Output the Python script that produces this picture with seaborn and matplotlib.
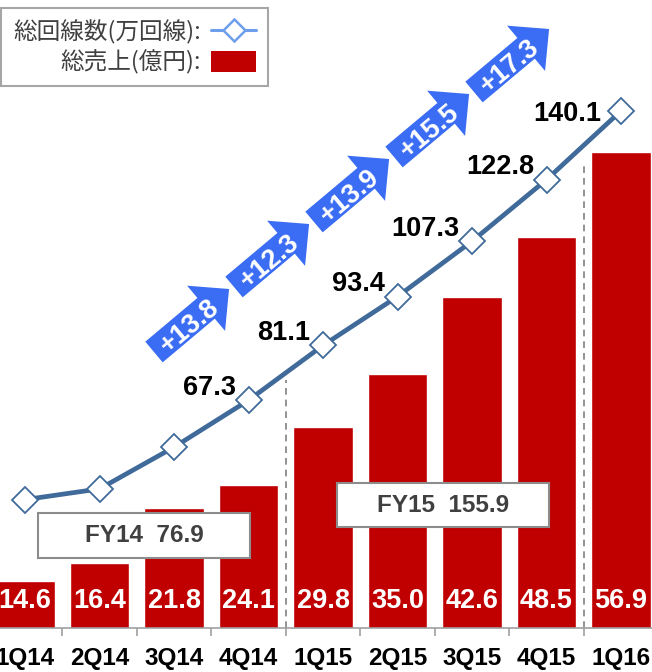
import numpy as np
import pandas as pd
import matplotlib
matplotlib.use("Agg")
import matplotlib.pyplot as plt
from matplotlib.lines import Line2D
from matplotlib.patches import Patch, Rectangle, FancyArrow
import seaborn as sns

# data
quarters = ["1Q14", "2Q14", "3Q14", "4Q14", "1Q15", "2Q15", "3Q15", "4Q15", "1Q16"]
sales = [14.6, 16.4, 21.8, 24.1, 29.8, 35.0, 42.6, 48.5, 56.9]        # 総売上(億円)
lines = [42.3, 45.0, 55.5, 67.3, 81.1, 93.4, 107.3, 122.8, 140.1]     # 総回線数(万回線)
fy_labels = ["FY14  76.9", "FY15  155.9"]
legend_labels = ["総回線数(万回線):", "総売上(億円):"]
first_labelled = 3  # line values shown from 4Q14 on

RED = "#C00000"
NAVY = "#3F6A99"
BLUE = "#3A6CF4"
LIGHT = "#6D9EEB"
GREY = "#404040"

sns.set_theme(style="white")
plt.rcParams["font.family"] = ["Liberation Sans", "Noto Sans CJK JP", "DejaVu Sans"]

df = pd.DataFrame({"quarter": quarters, "sales": sales, "lines": lines})

fig = plt.figure(figsize=(6.52, 6.72), dpi=100)
ax = fig.add_axes([0, 44 / 672, 1, 628 / 672])

# bars
sns.barplot(data=df, x="quarter", y="sales", color=RED, saturation=1, width=0.8, ax=ax)
ax.set_ylim(10, 71.9)
ax.set_xlabel("")
ax.set_ylabel("")
ax.set_yticks([])
for s in ["top", "left", "right"]:
    ax.spines[s].set_visible(False)
ax.spines["bottom"].set_color("#A0A0A0")
ax.spines["bottom"].set_linewidth(1.2)
ax.set_xticks(np.arange(len(quarters) - 1) + 0.5, minor=True)
ax.tick_params(axis="x", which="major", length=0, pad=14, labelsize=17.5)
ax.tick_params(axis="x", which="minor", bottom=True, length=5.5, width=1.2, color="#A0A0A0")
for t in ax.get_xticklabels():
    t.set_fontweight("bold")
    t.set_color("black")

for i, v in enumerate(sales):
    ax.text(i, 27 / 628, f"{v:.1f}", transform=ax.get_xaxis_transform(),
            ha="center", va="center", color="white", fontsize=19.5, fontweight="bold")

# fiscal year separators
ax.axvline(3.5, ymax=0.395, color="#808080", lw=1.2, ls=(0, (4, 3)))
ax.axvline(7.5, ymax=0.742, color="#808080", lw=1.2, ls=(0, (4, 3)))

# fiscal year boxes
for (x0, y0, w, h), lab in zip([(38, 513, 212, 45), (337, 483, 212, 44)], fy_labels):
    ax.add_patch(Rectangle((x0 / 652, (628 - y0 - h) / 628), w / 652, h / 628,
                           transform=ax.transAxes, facecolor="white",
                           edgecolor="#8C8C8C", lw=1.5, zorder=5))
    ax.text((x0 + w / 2) / 652, (628 - y0 - h / 2) / 628, lab, transform=ax.transAxes,
            ha="center", va="center", fontsize=17.5, fontweight="bold", color=GREY, zorder=6)

# line on second axis
ax2 = ax.twinx()
sns.pointplot(data=df, x="quarter", y="lines", ax=ax2, color=NAVY, markers="D",
              linestyles="-", linewidth=3.4, markersize=13, markerfacecolor="white",
              markeredgecolor=NAVY, markeredgewidth=1.3, errorbar=None)
ax2.set_ylim(10, 168)
ax2.set_yticks([])
ax2.set_ylabel("")
for s in ax2.spines.values():
    s.set_visible(False)
ax.set_xlim(-0.336, 8.416)

for i, v in enumerate(lines):
    if i < first_labelled:
        continue
    off = (-14, -2) if i == len(lines) - 1 else (-9, 9)
    ax2.annotate(f"{v:.1f}", (i, v), xytext=off, textcoords="offset points",
                 ha="right", va="center", fontsize=19.5, fontweight="bold", color="black")

# growth arrows
diffs = np.diff(lines[first_labelled:])
ang = np.deg2rad(40)
ux, uy = np.cos(ang), np.sin(ang)
for k, d in enumerate(diffs):
    px, py = 154 + 80 * k, 352 - 65 * k
    x, y = px / 100, (672 - py) / 100
    fig.add_artist(FancyArrow(x, y, 0.98 * ux, 0.98 * uy, width=0.27, head_width=0.59,
                              head_length=0.30, length_includes_head=True,
                              transform=fig.dpi_scale_trans, facecolor=BLUE,
                              edgecolor="none"))
    fig.text(x + 0.44 * ux, y + 0.44 * uy, f"+{d:.1f}", transform=fig.dpi_scale_trans,
             rotation=40, rotation_mode="anchor", ha="center", va="center_baseline",
             color="white", fontsize=19.5, fontweight="bold")

# legend
handles = [Line2D([0], [0], color=LIGHT, lw=2.2, marker="D", ms=11, mfc="white",
                  mec=LIGHT, mew=1.8),
           Patch(facecolor=RED, edgecolor="none")]
leg = ax2.legend(handles, legend_labels, loc="upper right",
                 bbox_to_anchor=(268 / 652, 620 / 628), markerfirst=False,
                 frameon=True, fancybox=False, edgecolor="#A6A6A6", framealpha=1,
                 prop={"family": ["Noto Sans CJK JP"], "size": 17},
                 handlelength=1.9, handleheight=0.95, handletextpad=0.45,
                 labelspacing=0.25, borderpad=0.5, borderaxespad=0)
leg.get_frame().set_linewidth(1.5)
for t in leg.get_texts():
    t.set_color(GREY)

fig.savefig("out.png", dpi=100)
